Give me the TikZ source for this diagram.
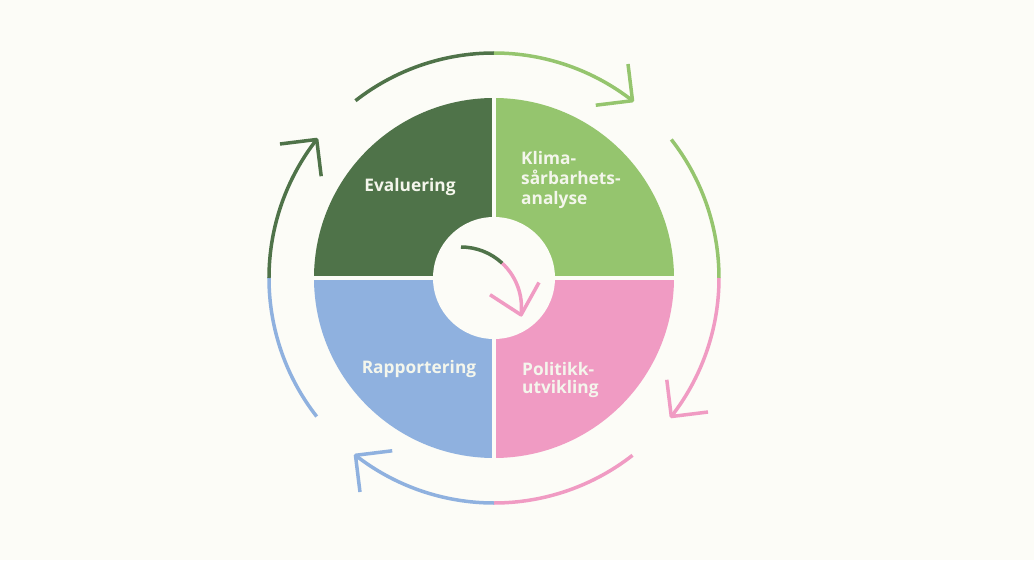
\documentclass[tikz,border=0pt]{standalone}
\usepackage{fontspec}
\setmainfont{Open Sans}
\usetikzlibrary{calc}
\definecolor{bg}{HTML}{FCFCF7}
\definecolor{dg}{HTML}{4F7349}
\definecolor{lg}{HTML}{95C56E}
\definecolor{pk}{HTML}{F09BC3}
\definecolor{bl}{HTML}{8FB1DF}
\definecolor{tx}{HTML}{F4F6EC}
\begin{document}
\begin{tikzpicture}[x=1pt,y=1pt,
  arcline/.style={line width=3.5pt},
  headline/.style={line width=3.5pt, line join=round},
  lbl/.style={text=tx, font=\fontsize{17.3}{20}\selectfont\bfseries, inner sep=0pt}]
\fill[bg] (-494,-282) rectangle (540,278);
\useasboundingbox (-494,-282) rectangle (540,278);
% quadrants
\fill[dg] (0,0) -- (180:180) arc[start angle=180,end angle=90,radius=180] -- cycle;
\fill[lg] (0,0) -- (90:180) arc[start angle=90,end angle=0,radius=180] -- cycle;
\fill[pk] (0,0) -- (0:180) arc[start angle=0,end angle=-90,radius=180] -- cycle;
\fill[bl] (0,0) -- (-90:180) arc[start angle=-90,end angle=-180,radius=180] -- cycle;
\draw[bg, line width=4.5pt] (-185,0) -- (185,0);
\draw[bg, line width=4.5pt] (0,-185) -- (0,185);
\fill[bg] (0,0) circle (61);
% outer arcs
\def\R{225}
\draw[arcline, dg] (128:\R) arc[start angle=128,end angle=90,radius=\R];
\draw[arcline, lg] (90:\R) arc[start angle=90,end angle=52,radius=\R];
\coordinate (t1) at (52:\R);
\draw[headline, lg] ($(t1)+(97:37)$) -- (t1) -- ($(t1)+(187:37)$);
\draw[arcline, lg] (38:\R) arc[start angle=38,end angle=0,radius=\R];
\draw[arcline, pk] (0:\R) arc[start angle=0,end angle=-38,radius=\R];
\coordinate (t2) at (-38:\R);
\draw[headline, pk] ($(t2)+(7:37)$) -- (t2) -- ($(t2)+(97:37)$);
\draw[arcline, pk] (-52:\R) arc[start angle=-52,end angle=-90,radius=\R];
\draw[arcline, bl] (-90:\R) arc[start angle=-90,end angle=-128,radius=\R];
\coordinate (t3) at (-128:\R);
\draw[headline, bl] ($(t3)+(-83:37)$) -- (t3) -- ($(t3)+(7:37)$);
\draw[arcline, bl] (218:\R) arc[start angle=218,end angle=180,radius=\R];
\draw[arcline, dg] (180:\R) arc[start angle=180,end angle=142,radius=\R];
\coordinate (t4) at (142:\R);
\draw[headline, dg] ($(t4)+(187:37)$) -- (t4) -- ($(t4)+(277:37)$);
% inner arrow
\coordinate (ic) at (-33,-29.5);
\draw[arcline, dg] ($(ic)+(90:60.5)$) arc[start angle=90,end angle=47,radius=60.5];
\draw[arcline, pk] ($(ic)+(47:60.5)$) arc[start angle=47,end angle=-7,radius=60.5];
\coordinate (t5) at ($(ic)+(-7:60.5)$);
\draw[headline, pk] ($(t5)+(61:37)$) -- (t5) -- ($(t5)+(147:37)$);
% labels
\node[lbl, anchor=base] (ev) at (-84,86) {Evaluering};
\node[lbl, anchor=base] (ra) at (-75,-95) {Rapportering};
\node[lbl, anchor=base west] (k1) at (27,113) {Klima-};
\node[lbl, anchor=base west] (k2) at (27,93) {sårbarhets-};
\node[lbl, anchor=base west] (k3) at (27,74) {analyse};
\node[lbl, anchor=base west] (p1) at (28,-97) {Politikk-};
\node[lbl, anchor=base west] (p2) at (28,-115) {utvikling};
\end{tikzpicture}
\end{document}
